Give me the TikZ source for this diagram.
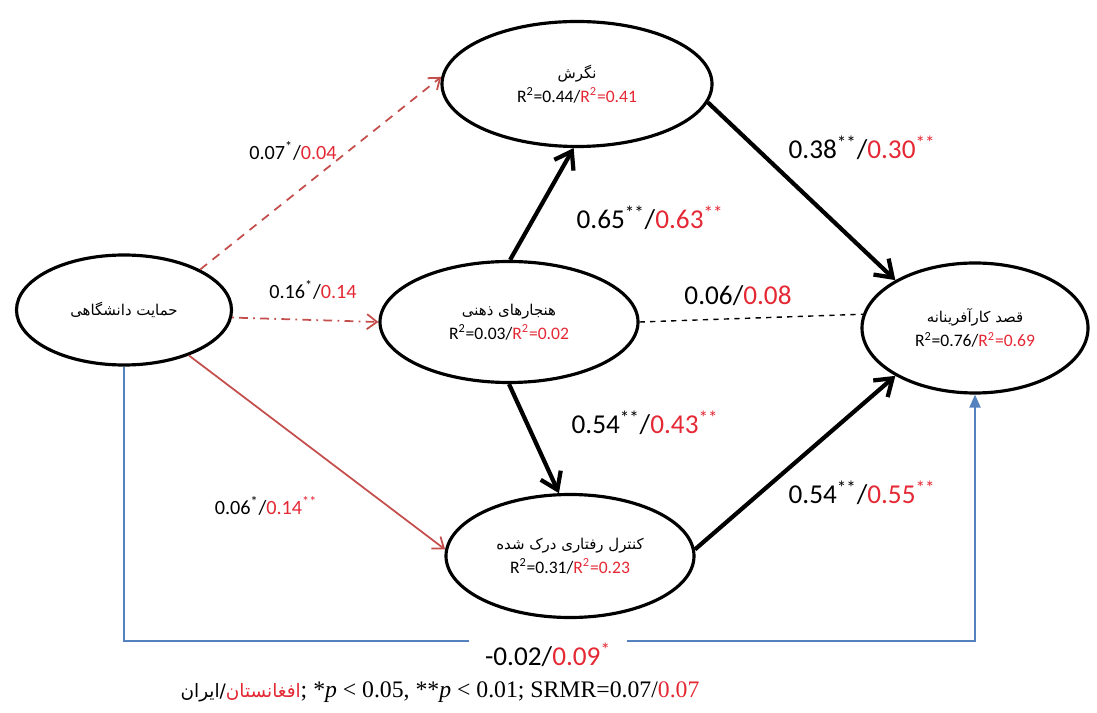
\documentclass[tikz,border=0pt]{standalone}
\usepackage{fontspec}
\setmainfont{Carlito}
\newfontfamily\timesfont{Liberation Serif}
\newfontfamily\farsi[Script=Arabic]{DejaVu Sans}
\usetikzlibrary{arrows.meta}
\usetikzlibrary{shapes.geometric}
\TeXXeTstate=1
\definecolor{valred}{RGB}{228,40,52}
\definecolor{pathred}{RGB}{196,78,76}
\definecolor{pathblue}{RGB}{84,130,190}
\newcommand{\fa}[1]{{\farsi\beginR #1\endR}}
\newcommand{\ovaltitle}[1]{{\farsi\fontsize{8.5}{13}\selectfont\beginR #1\endR}}
\newcommand{\rsq}[2]{R\textsuperscript{2}=#1/{\color{valred}R\textsuperscript{2}=#2}}

\tikzset{
  oval/.style={ellipse, draw, line width=1.8pt, inner sep=0pt, align=center, font=\fontsize{10}{13.5}\selectfont},
  strong/.style={line width=2.4pt, -{Straight Barb[length=3.2mm,width=4.4mm]}},
  weak/.style={line width=1pt, pathred, -{Straight Barb[length=2mm,width=3mm]}},
  coef/.style={font=\fontsize{11.5}{13}\selectfont},
  bigcoef/.style={font=\fontsize{15.5}{18}\selectfont}
}

\begin{document}
\begin{tikzpicture}[x=0.2mm,y=-0.2mm]
\useasboundingbox (0,0) rectangle (1097,713);

\node[oval, minimum width=43mm, minimum height=22mm] (support) at (124,310) {\ovaltitle{حمایت دانشگاهی}};
\node[oval, minimum width=54mm, minimum height=25mm] (attitude) at (577,84) {\ovaltitle{نگرش}\\ \rsq{0.44}{0.41}};
\node[oval, minimum width=51.6mm, minimum height=24.2mm] (norms) at (509,322) {\ovaltitle{هنجارهای ذهنی}\\ \rsq{0.03}{0.02}};
\node[oval, minimum width=49.6mm, minimum height=24.6mm] (control) at (570,556) {\ovaltitle{کنترل رفتاری درک شده}\\ \rsq{0.31}{0.23}};
\node[oval, minimum width=45.2mm, minimum height=26mm] (intent) at (975,328) {\ovaltitle{قصد کارآفرینانه}\\ \rsq{0.76}{0.69}};

\draw[weak, dash pattern=on 5pt off 4pt] (support.28) -- (attitude.177);
\draw[weak, dash pattern=on 1pt off 3pt on 5pt off 3pt] (support.-4) -- (norms.180);
\draw[weak] (support.-35) -- (control.177);
\draw[strong] (norms.89) -- (attitude.-93);
\draw[strong] (norms.-90) -- (control.100);
\draw[strong] (attitude.-8) -- (intent.149);
\draw[dashed, line width=0.8pt] (norms.0) -- (intent.173);
\draw[strong] (control.3) -- (intent.-149);
\coordinate (turn) at (124,641);
\draw[pathblue, line width=1.1pt, -{Triangle[length=2.6mm,width=2.2mm]}] (support.south) -- (turn) -| (intent.south);

\node[coef] (c1) at (293,151) {0.07\textsuperscript{*}/{\color{valred}0.04}};
\node[coef] (c2) at (313,290) {0.16\textsuperscript{*}/{\color{valred}0.14}};
\node[coef] (c3) at (266,506) {0.06\textsuperscript{*}/{\color{valred}0.14\textsuperscript{**}}};
\node[bigcoef] (c4) at (650,218) {0.65\textsuperscript{**}/{\color{valred}0.63\textsuperscript{**}}};
\node[bigcoef] (c5) at (645,423) {0.54\textsuperscript{**}/{\color{valred}0.43\textsuperscript{**}}};
\node[bigcoef] (c6) at (862,148) {0.38\textsuperscript{**}/{\color{valred}0.30\textsuperscript{**}}};
\node[bigcoef] (c7) at (738,296) {0.06/{\color{valred}0.08}};
\node[bigcoef] (c8) at (862,493) {0.54\textsuperscript{**}/{\color{valred}0.55\textsuperscript{**}}};
\node[bigcoef, fill=white, inner xsep=9pt] (c9) at (548,655) {-0.02/{\color{valred}0.09\textsuperscript{*}}};

\node[font=\timesfont\fontsize{13.5}{16}\selectfont] (note) at (440,692) {{\farsi\fontsize{10.5}{16}\selectfont\fa{ایران}/{\color{valred}\fa{افغانستان}}}; *\textit{p} < 0.05, **\textit{p} < 0.01; SRMR=0.07/{\color{valred}0.07}};
\end{tikzpicture}
\end{document}
